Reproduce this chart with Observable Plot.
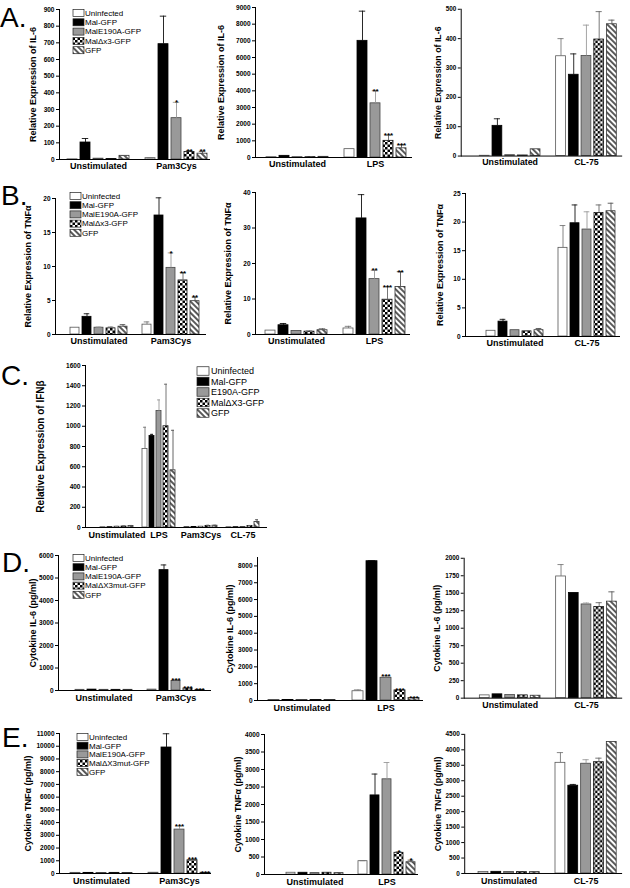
<!DOCTYPE html>
<html><head><meta charset="utf-8">
<script src="https://cdn.jsdelivr.net/npm/d3@7"></script>
<script src="https://cdn.jsdelivr.net/npm/@observablehq/plot@0.6"></script>
<style>
body{margin:0;background:#fff;}
#fig{position:relative;width:630px;height:888px;overflow:hidden;font-family:"Liberation Sans",Arial,sans-serif;background:#fff;}
.panel{position:absolute;}
#overlay{position:absolute;left:0;top:0;pointer-events:none;}
</style></head>
<body>
<svg width="0" height="0" style="position:absolute">
<defs>
<pattern id="checker" patternUnits="userSpaceOnUse" width="5" height="5">
<rect width="5" height="5" fill="#fff"/>
<rect width="2.5" height="2.5" fill="#000"/>
<rect x="2.5" y="2.5" width="2.5" height="2.5" fill="#000"/>
</pattern>
<pattern id="hatch" patternUnits="userSpaceOnUse" width="4" height="4" patternTransform="rotate(-45)">
<rect width="4" height="4" fill="#fff"/>
<line x1="2" y1="0" x2="2" y2="4" stroke="#000" stroke-width="1.3"/>
</pattern>
</defs></svg>
<div id="fig"></div>
<script>
// ---------- data ----------
const seriesAB = ["Uninfected","Mal-GFP","MalE190A-GFP","Mal\u0394x3-GFP","GFP"];
const seriesC  = ["Uninfected","Mal-GFP","E190A-GFP","Mal\u0394X3-GFP","GFP"];
const seriesDE = ["Uninfected","Mal-GFP","MalE190A-GFP","Mal\u0394X3mut-GFP","GFP"];

const groupsPam = ["Unstimulated","Pam3Cys"];
const groupsLPS = ["Unstimulated","LPS"];
const groupsCL  = ["Unstimulated","CL-75"];
const groupsC   = ["Unstimulated","LPS","Pam3Cys","CL-75"];

// A: Relative expression of IL-6
const a1Vals = [[1,102,5,3,22],[8,692,248,45,35]];
const a1Errs = [[0,24,0,0,2],[2,168,95,8,14]];
const a1Stars = [["","","","",""],["","","*","**","**"]];
const a1Ticks = [0,100,200,300,400,500,600,700,800,900];

const a2Vals = [[20,100,20,20,40],[500,7000,3250,1000,550]];
const a2Errs = [[0,15,0,0,0],[0,1780,760,350,220]];
const a2Stars = [["","","","",""],["","","**","***","***"]];
const a2Ticks = [0,1000,2000,3000,4000,5000,6000,7000,8000,9000];

const a3Vals = [[1,103,3,2,23],[340,277,341,397,449]];
const a3Errs = [[0,24,0,0,0],[60,71,105,95,14]];
const a3Ticks = [0,100,200,300,400,500];

// B: Relative expression of TNFα
const b1Vals = [[1.0,2.6,1.0,0.9,1.15],[1.45,17.5,9.8,7.95,4.9]];
const b1Errs = [[0,0.45,0.1,0.2,0.3],[0.4,2.6,2.2,1.15,0.6]];
const b1Stars = [["","","","",""],["","","*","**","**"]];
const b1Ticks = [0,5,10,15,20];

const b2Vals = [[1.1,2.6,1.0,0.8,1.2],[1.7,32.7,15.6,9.8,13.4]];
const b2Errs = [[0,0.5,0,0.2,0.4],[0.6,6.7,2.5,3.7,4.3]];
const b2Stars = [["","","","",""],["","","**","***","**"]];
const b2Ticks = [0,10,20,30,40];

const b3Vals = [[1.0,2.6,1.1,0.9,1.1],[15.5,19.8,18.7,21.6,21.9]];
const b3Errs = [[0,0.4,0,0.1,0.3],[3.9,3.2,3.1,1.4,1.4]];
const b3Ticks = [0,5,10,15,20,25];

// C: Relative expression of IFNβ
const cVals = [[3,3,8,10,14],[775,905,1150,1000,565],[5,5,8,16,18],[3,3,5,15,55]];
const cErrs = [[0,0,4,6,6],[215,15,110,415,395],[0,0,2,6,4],[0,0,0,5,22]];
const cTicks = [0,200,400,600,800,1000,1200,1400,1600];

// D: Cytokine IL-6 (pg/ml)
const d1Vals = [[30,40,30,30,30],[40,5350,420,90,30]];
const d1Errs = [[0,0,0,0,0],[0,230,60,0,0]];
const d1Stars = [["","","","",""],["","","***","***","***"]];
const d1Ticks = [0,1000,2000,3000,4000,5000,6000];

const d2Vals = [[30,30,30,30,30],[550,8280,1350,600,150]];
const d2Errs = [[0,0,0,0,0],[80,40,120,0,0]];
const d2Stars = [["","","","",""],["","","***","***","***"]];
const d2Ticks = [0,1000,2000,3000,4000,5000,6000,7000,8000];

const d3Vals = [[40,55,45,40,35],[1740,1505,1340,1305,1380]];
const d3Errs = [[0,0,0,0,0],[170,5,20,60,140]];
const d3Ticks = [0,250,500,750,1000,1250,1500,1750,2000];

// E: Cytokine TNFα (pg/ml)
const e1Vals = [[50,50,40,50,40],[60,9900,3450,1040,60]];
const e1Errs = [[0,0,0,0,0],[0,1080,300,80,0]];
const e1Stars = [["","","","",""],["","","***","***","***"]];
const e1Ticks = [0,1000,2000,3000,4000,5000,6000,7000,8000,9000,10000,11000];

const e2Vals = [[50,50,40,50,40],[380,2260,2720,620,350]];
const e2Errs = [[0,0,0,0,0],[15,610,480,30,60]];
const e2Stars = [["","","","",""],["","","","*","*"]];
const e2Ticks = [0,500,1000,1500,2000,2500,3000,3500,4000];

const e3Vals = [[50,55,50,45,45],[3580,2840,3550,3600,4250]];
const e3Errs = [[0,0,0,0,0],[330,40,130,130,0]];
const e3Ticks = [0,500,1000,1500,2000,2500,3000,3500,4000,4500];

// ---------- styles ----------
const fills = ["#ffffff","#000000","#999999","url(#checker)","url(#hatch)"];
const outlines = ["#555","#000","#444","#111","#333"];
const whiskers = ["#777","#111","#999","#666","#555"];
const FONT = "'Liberation Sans', Arial, Helvetica, sans-serif";

const fig = document.getElementById("fig");

function panel(cfg){
  const {groups, vals, errs, stars, ticks, ymax, ylabel, ax, aend, ytop, yzero, b0, b1, lx, lfont=9, gfont=9, gdy=3} = cfg;
  const ML = 60, MR = 8, MT = 10, MB = 18;
  const left = ax - ML, top = ytop - MT;
  const data = [], keys = [];
  groups.forEach((g, gi) => {
    if (gi > 0) keys.push("gap" + gi);
    for (let s = 0; s < 5; s++) {
      const k = gi + "-" + s;
      keys.push(k);
      data.push({key: k, g, s, v: vals[gi][s], e: errs[gi][s], star: stars ? stars[gi][s] : ""});
    }
  });
  const lab = groups.map((g, gi) => ({key: gi + "-2", g}));
  const n = keys.length;
  const bw = (b1 - b0) / (n - 0.25) * 0.75;
  const capInset = bw * 0.18;
  const marks = [];
  for (let s = 0; s < 5; s++) {
    const ds = data.filter(d => d.s === s);
    marks.push(Plot.barY(ds, {x: "key", y: "v", fill: "s", stroke: outlines[s], strokeWidth: 0.8}));
  }
  for (let s = 0; s < 5; s++) {
    const de = data.filter(d => d.s === s && d.e > 0);
    marks.push(Plot.ruleX(de, {x: "key", y1: "v", y2: d => d.v + d.e, stroke: whiskers[s], strokeWidth: 0.9}));
    marks.push(Plot.tickY(de, {x: "key", y: d => d.v + d.e, stroke: whiskers[s], strokeWidth: 0.9, insetLeft: capInset, insetRight: capInset}));
  }
  marks.push(Plot.ruleY([0], {stroke: "#000", strokeWidth: 1}));
  marks.push(Plot.text(data.filter(d => d.star), {x: "key", y: d => d.v + d.e, text: "star", lineAnchor: "bottom", dy: 3, fontSize: 8, fontWeight: "bold"}));
  marks.push(Plot.text(lab, {x: "key", text: "g", frameAnchor: "bottom", textAnchor: "middle", lineAnchor: "top", dy: gdy, fontSize: gfont, fontWeight: "bold"}));
  marks.push(Plot.text([ylabel], {text: d => d, frameAnchor: "left", textAnchor: "middle", lineAnchor: "middle", rotate: -90, dx: lx, fontSize: lfont, fontWeight: "bold"}));
  const svg = Plot.plot({
    width: aend - ax + ML + MR,
    height: yzero - ytop + MT + MB,
    marginLeft: ML, marginRight: MR, marginTop: MT, marginBottom: MB,
    x: {type: "band", domain: keys, range: [b0 - left, b1 - left], paddingInner: 0.25, paddingOuter: 0, axis: null},
    y: {domain: [0, ymax], ticks: ticks, tickFormat: d => String(d), tickSize: 3, tickPadding: 2, label: null, line: true},
    color: {type: "ordinal", domain: [0,1,2,3,4], range: fills},
    style: {fontFamily: FONT, fontSize: "6.5px", fontWeight: "bold", background: "transparent", overflow: "visible", color: "#000"},
    marks
  });
  const div = document.createElement("div");
  div.className = "panel";
  div.style.left = left + "px";
  div.style.top = top + "px";
  div.appendChild(svg);
  fig.appendChild(div);
}

const LIL6 = "Relative Expression of IL-6";
const LTNF = "Relative Expression of TNF\u03b1";
const LIFN = "Relative Expression of IFN\u03b2";
const LCIL6 = "Cytokine IL-6 (pg/ml)";
const LCTNF = "Cytokine TNF\u03b1 (pg/ml)";

panel({groups: groupsPam, vals: a1Vals, errs: a1Errs, stars: a1Stars, ticks: a1Ticks, ymax: 900, ylabel: LIL6, ax: 59, aend: 210, ytop: 9, yzero: 159, b0: 66, b1: 208, lx: -26});
panel({groups: groupsLPS, vals: a2Vals, errs: a2Errs, stars: a2Stars, ticks: a2Ticks, ymax: 9000, ylabel: LIL6, ax: 255, aend: 412, ytop: 7, yzero: 157, b0: 264, b1: 408, lx: -34});
panel({groups: groupsCL, vals: a3Vals, errs: a3Errs, ticks: a3Ticks, ymax: 500, ylabel: LIL6, ax: 462, aend: 627, ytop: 9, yzero: 159, b0: 476, b1: 625, lx: -24});

panel({groups: groupsPam, vals: b1Vals, errs: b1Errs, stars: b1Stars, ticks: b1Ticks, ymax: 20, ylabel: LTNF, ax: 55, aend: 206, ytop: 198, yzero: 334, b0: 66, b1: 203, lx: -27});
panel({groups: groupsLPS, vals: b2Vals, errs: b2Errs, stars: b2Stars, ticks: b2Ticks, ymax: 40, ylabel: LTNF, ax: 255, aend: 410, ytop: 192, yzero: 334, b0: 264, b1: 405, lx: -27});
panel({groups: groupsCL, vals: b3Vals, errs: b3Errs, ticks: b3Ticks, ymax: 25, ylabel: LTNF, ax: 465, aend: 620, ytop: 193, yzero: 336, b0: 484, b1: 617, lx: -25});

panel({groups: groupsC, vals: cVals, errs: cErrs, ticks: cTicks, ymax: 1600, ylabel: LIFN, ax: 85, aend: 267, ytop: 365, yzero: 527, b0: 96, b1: 263, lx: -45, lfont: 10, gdy: 4});

panel({groups: groupsPam, vals: d1Vals, errs: d1Errs, stars: d1Stars, ticks: d1Ticks, ymax: 6000, ylabel: LCIL6, ax: 58, aend: 211, ytop: 555, yzero: 690, b0: 70, b1: 208, lx: -25, gdy: 4});
panel({groups: groupsLPS, vals: d2Vals, errs: d2Errs, stars: d2Stars, ticks: d2Ticks, ymax: 8500, ylabel: LCIL6, ax: 257, aend: 423, ytop: 557, yzero: 700, b0: 267, b1: 420, lx: -27, gdy: 4});
panel({groups: groupsCL, vals: d3Vals, errs: d3Errs, ticks: d3Ticks, ymax: 2000, ylabel: LCIL6, ax: 465, aend: 627, ytop: 558, yzero: 701, b0: 476, b1: 625, lx: -28, gdy: 4});

panel({groups: groupsPam, vals: e1Vals, errs: e1Errs, stars: e1Stars, ticks: e1Ticks, ymax: 11000, ylabel: LCTNF, ax: 59, aend: 211, ytop: 733, yzero: 873, b0: 70, b1: 210, lx: -31, gdy: 4});
panel({groups: groupsLPS, vals: e2Vals, errs: e2Errs, stars: e2Stars, ticks: e2Ticks, ymax: 4000, ylabel: LCTNF, ax: 264, aend: 418, ytop: 734, yzero: 874, b0: 286, b1: 415, lx: -26, gdy: 4});
panel({groups: groupsCL, vals: e3Vals, errs: e3Errs, ticks: e3Ticks, ymax: 4500, ylabel: LCTNF, ax: 465, aend: 625, ytop: 734, yzero: 875, b0: 475, b1: 622, lx: -27, gdy: 4});

// ---------- overlay: panel letters and legends ----------
const NS = "http://www.w3.org/2000/svg";
const ov = document.createElementNS(NS, "svg");
ov.setAttribute("id", "overlay");
ov.setAttribute("width", 630);
ov.setAttribute("height", 888);
ov.style.fontFamily = "'Liberation Sans', Arial, sans-serif";
fig.appendChild(ov);
function el(tag, attrs, txt){ const e = document.createElementNS(NS, tag); for (const k in attrs) e.setAttribute(k, attrs[k]); if (txt != null) e.textContent = txt; ov.appendChild(e); return e; }

const letters = [["A.", 0, 27], ["B.", 1, 205], ["C.", 1, 385], ["D.", 2, 572], ["E.", 2, 747]];
letters.forEach(([t, x, y]) => el("text", {x, y, "font-size": 28}, t));

function legend(labels, x, y0, step, sw, sh, fs, tx){
  labels.forEach((lab, i) => {
    const cy = y0 + i * step;
    el("rect", {x, y: cy - sh / 2, width: sw, height: sh, fill: fills[i], stroke: "#222", "stroke-width": 0.7});
    el("text", {x: x + tx, y: cy + fs * 0.36, "font-size": fs}, lab);
  });
}
legend(seriesAB, 73, 13, 9.3, 11, 7, 8, 12);
legend(seriesAB, 70, 196, 9.2, 11, 7, 8, 12);
legend(seriesC, 197, 371, 10.5, 12, 8.5, 9, 14);
legend(seriesDE, 73, 558, 9.2, 11, 7, 8, 12);
legend(seriesDE, 77, 737, 8.7, 11, 7, 8, 12);
</script>
</body></html>
